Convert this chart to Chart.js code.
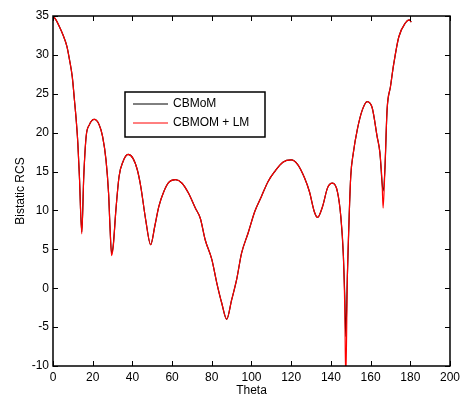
<!DOCTYPE html>
<html>
<head>
<meta charset="utf-8">
<script src="https://cdn.jsdelivr.net/npm/chart.js@4.4.1/dist/chart.umd.min.js"></script>
<style>
  html, body { margin: 0; padding: 0; background: #fff; }
  #wrap { width: 464px; height: 400px; }
</style>
</head>
<body>
<div id="wrap"><canvas id="rcs" width="464" height="400"></canvas></div>
<script>
// angles (deg)
const theta = [0, 1.5, 3.3, 5, 7, 8.3, 9.7, 10.8, 11.7, 12.5, 13.3, 14.5, 15.5, 16.7, 18.3, 20.8, 23.3, 25, 26.7, 28,
  28.7, 29.5, 30.3, 31.7, 33.3, 35.3, 37.8, 40.3, 42.5, 44.2, 46.7, 49.2, 51.3, 53.3, 55.8, 58.3, 61.7, 65, 68.3, 71.7,
  74.2, 76.7, 80, 82.5, 85, 87.5, 90, 92.5, 95, 98.3, 101.7, 105, 108.3, 111.7, 115.8, 120, 123.3, 126.7, 129.2, 131.7,
  133.3, 135.8, 138.3, 140.8, 143.3, 145, 146.3, 147, 147.5, 148.3, 149.2, 150, 151.3, 153.3, 155.8, 158.3, 160.8, 163.3, 164.7, 165.8,
  166.3, 167.2, 168.3, 170, 171.7, 174.2, 177.5, 179.5, 180.5];

const cbmom = [35.0, 34.5, 33.6, 32.6, 31.1, 29.4, 27.2, 24.2, 21.6, 18.7, 14.4, 7.2, 14.4, 19.5, 21.0, 21.7, 21.0, 19.5, 16.5, 12.2,
  8.0, 4.5, 5.4, 10.1, 14.4, 16.3, 17.2, 16.7, 15.2, 13.1, 8.8, 5.6, 8.0, 10.5, 12.4, 13.6, 13.95, 13.5, 12.2, 10.3,
  9.0, 6.2, 3.7, 0.7, -1.9, -4.0, -1.5, 1.1, 4.5, 7.1, 9.9, 11.8, 13.7, 15.0, 16.2, 16.5, 15.9, 14.2, 12.4, 9.8,
  9.1, 10.5, 12.9, 13.5, 12.4, 9.2, 4.1, -1.0, -6.2, 1.5, 9.2, 14.4, 17.4, 20.4, 22.9, 24.0, 23.2, 19.5, 17.4, 13.5,
  12.5, 15.2, 22.9, 25.9, 28.9, 32.3, 34.1, 34.5, 34.2];

const cbmomLm = [35.0, 34.5, 33.6, 32.6, 31.1, 29.4, 27.2, 24.2, 21.6, 18.7, 14.4, 7.0, 14.4, 19.5, 21.0, 21.7, 21.0, 19.5, 16.5, 12.2,
  8.0, 4.2, 5.2, 10.1, 14.4, 16.3, 17.2, 16.7, 15.2, 13.1, 8.8, 5.6, 8.0, 10.5, 12.4, 13.6, 13.95, 13.5, 12.2, 10.3,
  9.0, 6.2, 3.7, 0.7, -1.9, -4.0, -1.5, 1.1, 4.5, 7.1, 9.9, 11.8, 13.7, 15.0, 16.2, 16.5, 15.9, 14.2, 12.4, 9.8,
  9.1, 10.5, 12.9, 13.5, 12.4, 9.2, 4.1, -2.7, -12.0, 1.5, 9.2, 14.4, 17.4, 20.4, 22.9, 24.0, 23.2, 19.5, 17.4, 13.5,
  10.3, 15.2, 22.9, 25.9, 28.9, 32.3, 34.1, 34.5, 34.2];

const xTicks = [0, 20, 40, 60, 80, 100, 120, 140, 160, 180, 200];
const yTicks = [-10, -5, 0, 5, 10, 15, 20, 25, 30, 35];

const FONT = { family: '"Liberation Sans", Arial, sans-serif', size: 12 };

const toPoints = (vals) => theta.map((t, i) => ({ x: t, y: vals[i] }));

// matlab style box with inward ticks + legend inside the axes
const matlabFrame = {
    id: 'matlabFrame',
    afterDraw(chart) {
        const ctx = chart.ctx;
        const { left, right, top, bottom } = chart.chartArea;
        const xs = chart.scales.x;
        const ys = chart.scales.y;
        ctx.save();
        ctx.strokeStyle = '#000';
        ctx.lineWidth = 1.5;
        ctx.strokeRect(left, top, right - left, bottom - top);
        ctx.lineWidth = 1;
        ctx.beginPath();
        xTicks.forEach(v => {
            const px = Math.round(xs.getPixelForValue(v)) + 0.5;
            ctx.moveTo(px, bottom); ctx.lineTo(px, bottom - 5);
            ctx.moveTo(px, top); ctx.lineTo(px, top + 5);
        });
        yTicks.forEach(v => {
            const py = Math.round(ys.getPixelForValue(v)) + 0.5;
            ctx.moveTo(left, py); ctx.lineTo(left + 5, py);
            ctx.moveTo(right, py); ctx.lineTo(right - 5, py);
        });
        ctx.stroke();

        // legend
        const bx = 125, by = 92, bw = 140, bh = 45;
        ctx.fillStyle = '#fff';
        ctx.fillRect(bx, by, bw, bh);
        ctx.lineWidth = 1.5;
        ctx.strokeRect(bx, by, bw, bh);
        ctx.font = FONT.size + 'px ' + FONT.family;
        ctx.textBaseline = 'middle';
        chart.data.datasets.forEach((ds, i) => {
            const ly = by + 12 + i * 19;
            ctx.strokeStyle = ds.borderColor;
            ctx.lineWidth = 1;
            ctx.beginPath();
            ctx.moveTo(bx + 8, ly); ctx.lineTo(bx + 43, ly);
            ctx.stroke();
            ctx.fillStyle = '#000';
            ctx.fillText(ds.label, bx + 48, ly);
        });
        ctx.restore();
    }
};

new Chart(document.getElementById('rcs').getContext('2d'), {
    type: 'line',
    data: {
        datasets: [
            { label: 'CBMoM', data: toPoints(cbmom), borderColor: '#000000', borderWidth: 1.2, pointRadius: 0, cubicInterpolationMode: 'monotone', order: 1 },
            { label: 'CBMOM + LM', data: toPoints(cbmomLm), borderColor: '#ff0000', borderWidth: 1.2, pointRadius: 0, cubicInterpolationMode: 'monotone', order: 0 }
        ]
    },
    options: {
        responsive: false,
        animation: false,
        layout: { padding: { left: 0, top: 16, right: 11, bottom: 0 } },
        plugins: { legend: { display: false }, tooltip: { enabled: false } },
        scales: {
            x: {
                type: 'linear', min: 0, max: 200,
                grid: { display: false, drawTicks: false }, border: { display: false },
                afterBuildTicks: s => { s.ticks = xTicks.map(v => ({ value: v })); },
                afterFit: s => { s.height = 34; },
                ticks: { color: '#000', font: FONT, padding: 4, maxRotation: 0 },
                title: { display: true, text: 'Theta', color: '#000', font: FONT, padding: { top: 0, bottom: 2 } }
            },
            y: {
                type: 'linear', min: -10, max: 35,
                grid: { display: false, drawTicks: false }, border: { display: false },
                afterBuildTicks: s => { s.ticks = yTicks.map(v => ({ value: v })); },
                afterFit: s => { s.width = 53; },
                ticks: { color: '#000', font: FONT, padding: 4 },
                title: { display: true, text: 'Bistatic RCS', color: '#000', font: FONT, padding: { top: 13, bottom: 0 } }
            }
        }
    },
    plugins: [matlabFrame]
});
</script>
</body>
</html>
